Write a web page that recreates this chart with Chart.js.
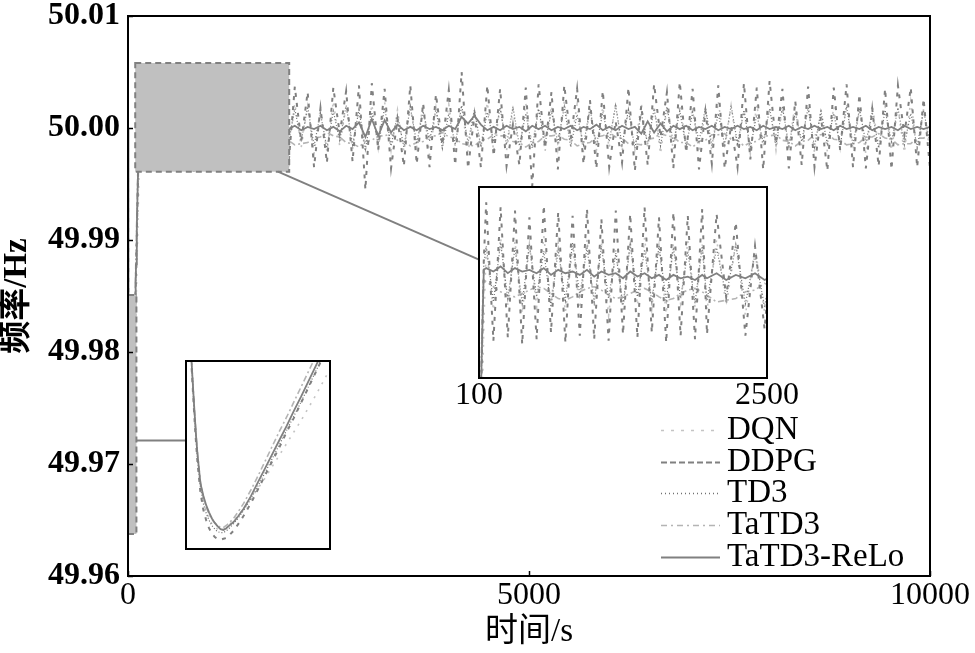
<!DOCTYPE html>
<html><head><meta charset="utf-8">
<script src="https://cdn.jsdelivr.net/npm/chart.js@4.4.1/dist/chart.umd.min.js"></script>
<style>
html,body{margin:0;padding:0;background:#fff;}
#wrap{position:relative;width:975px;height:653px;overflow:hidden;background:#fff;}
canvas{position:absolute;display:block;}
</style></head><body>
<div id="wrap">
<canvas id="main" width="975" height="653" style="left:0;top:0;"></canvas>
<canvas id="inset1" width="390" height="235" style="left:420px;top:180px;"></canvas>
<canvas id="inset2" width="148" height="192" style="left:184px;top:359px;"></canvas>
</div>
<script>
// ---------------- data (time in s, frequency in Hz) ----------------
const TIME = [
0,1,2,3,4,5,6,7,8,10,12,14,16,18,20,22,24,26,28,30,33,36,40,45,50,55,60,65,70,75,80,85,90,95,100,110,120,130,140,
160,220,280,340,400,460,520,580,640,700,760,820,880,940,1000,1060,1120,1180,1240,1300,1360,1420,1480,1540,1600,1660,1720,1780,1840,1900,1960,
2000,2080,2160,2240,2320,2400,2480,2560,2640,2720,
2800,2880,2960,3040,3120,3200,3280,3360,3440,3520,
3600,3680,3760,3840,3920,4000,4080,4160,4240,4320,
4400,4480,4560,4640,4720,4800,4880,4960,5040,5120,
5200,5280,5360,5440,5520,5600,5680,5760,5840,5920,
6000,6080,6160,6240,6320,6400,6480,6560,6640,6720,
6800,6880,6960,7040,7120,7200,7280,7360,7440,7520,
7600,7680,7760,7840,7920,8000,8080,8160,8240,8320,
8400,8480,8560,8640,8720,8800,8880,8960,9040,9120,
9200,9280,9360,9440,9520,9600,9680,9760,9840,9920,
10000];

const DQN = [
50.0000,49.9961,49.9919,49.9879,49.9844,49.9815,49.9788,49.9764,49.9743,49.9710,49.9691,49.9680,49.9672,49.9666,49.9662,49.9660,49.9659,49.9660,49.9662,49.9665,49.9669,49.9675,49.9683,49.9694,49.9706,49.9718,49.9731,49.9744,49.9757,49.9770,49.9783,49.9797,49.9811,49.9826,49.9841,49.9872,49.9904,49.9937,49.9970,
50.0018,49.9980,50.0023,49.9983,50.0021,49.9978,50.0019,49.9982,50.0024,49.9984,50.0020,49.9979,50.0017,49.9981,50.0022,49.9982,50.0020,49.9977,50.0016,49.9980,50.0021,49.9983,50.0023,49.9981,50.0018,49.9978,50.0020,49.9984,50.0021,49.9982,50.0019,
49.9980,50.0022,49.9983,50.0019,49.9977,50.0018,49.9979,50.0024,49.9984,50.0020,
49.9981,50.0017,49.9978,50.0021,49.9982,50.0023,49.9980,50.0016,49.9979,50.0019,
49.9983,50.0022,49.9976,50.0018,49.9981,50.0021,49.9984,50.0020,49.9978,50.0017,
49.9982,50.0023,49.9979,50.0019,49.9980,50.0016,49.9977,50.0022,49.9983,50.0018,
49.9979,50.0020,49.9981,50.0024,49.9984,50.0021,49.9978,50.0017,49.9980,50.0019,
49.9982,50.0023,49.9979,50.0016,49.9981,50.0022,49.9983,50.0020,49.9977,50.0018,
49.9980,50.0021,49.9984,50.0019,49.9978,50.0017,49.9979,50.0024,49.9982,50.0020,
49.9981,50.0016,49.9977,50.0021,49.9983,50.0022,49.9980,50.0018,49.9981,50.0023,
49.9984,50.0020,49.9978,50.0017,49.9979,50.0019,49.9982,50.0022,49.9980,50.0016,
49.9977,50.0021,49.9983,50.0019,49.9980,50.0018,49.9978,50.0024,49.9981,50.0017,
49.9979];

const DDPG = [
50.0000,49.9960,49.9918,49.9876,49.9840,49.9810,49.9782,49.9757,49.9735,49.9702,49.9682,49.9670,49.9661,49.9655,49.9651,49.9649,49.9648,49.9649,49.9650,49.9653,49.9658,49.9665,49.9675,49.9689,49.9705,49.9721,49.9737,49.9753,49.9770,49.9786,49.9803,49.9820,49.9837,49.9854,49.9871,49.9905,49.9938,49.9972,50.0010,
50.0044,49.9962,50.0041,49.9964,50.0039,49.9960,50.0035,49.9963,50.0042,49.9967,50.0038,49.9961,50.0036,49.9965,50.0040,49.9963,50.0034,49.9962,50.0039,49.9966,50.0037,49.9964,50.0041,49.9967,50.0035,49.9961,50.0038,49.9965,50.0036,49.9963,50.0040,
49.9966,50.0037,49.9988,50.0032,49.9965,50.0018,49.9969,50.0036,49.9995,50.0033,
49.9970,50.0038,49.9945,50.0040,49.9980,50.0035,49.9964,50.0008,49.9966,50.0038,
49.9968,50.0022,49.9965,50.0030,49.9985,50.0034,49.9967,50.0050,49.9964,50.0012,
49.9965,50.0038,49.9975,50.0035,49.9966,50.0003,49.9967,50.0036,49.9948,50.0039,
49.9982,50.0032,49.9963,50.0038,49.9990,50.0035,49.9968,50.0025,49.9964,50.0033,
49.9965,50.0006,49.9969,50.0036,49.9962,50.0020,49.9967,50.0039,49.9992,50.0032,
49.9964,50.0041,49.9978,50.0035,49.9963,50.0015,49.9968,50.0038,49.9964,50.0002,
49.9965,50.0040,49.9972,50.0036,49.9963,50.0042,49.9986,50.0035,49.9964,50.0024,
49.9967,50.0037,49.9965,50.0010,49.9962,50.0036,49.9980,50.0039,49.9965,50.0030,
49.9964,50.0017,49.9966,50.0035,49.9963,50.0038,49.9994,50.0036,49.9965,50.0026,
49.9964];

const TD3 = [
50.0000,49.9961,49.9920,49.9878,49.9843,49.9814,49.9787,49.9762,49.9740,49.9708,49.9689,49.9678,49.9670,49.9664,49.9660,49.9657,49.9656,49.9656,49.9658,49.9661,49.9666,49.9672,49.9681,49.9694,49.9709,49.9724,49.9740,49.9756,49.9772,49.9788,49.9804,49.9821,49.9838,49.9855,49.9872,49.9906,49.9940,49.9973,50.0008,
50.0018,49.9985,50.0020,49.9987,50.0017,49.9984,50.0019,49.9988,50.0015,49.9982,50.0016,49.9986,50.0020,49.9989,50.0017,49.9985,50.0018,49.9987,50.0014,49.9983,50.0019,49.9988,50.0016,49.9985,50.0018,49.9986,50.0017,49.9987,50.0015,49.9984,50.0018,
49.9986,50.0017,49.9988,50.0019,49.9984,50.0013,49.9982,50.0015,49.9989,50.0020,
49.9985,50.0016,49.9981,50.0014,49.9987,50.0018,49.9984,50.0012,49.9983,50.0019,
49.9986,50.0015,49.9988,50.0017,49.9982,50.0013,49.9985,50.0020,49.9987,50.0016,
49.9983,50.0014,49.9988,50.0018,49.9985,50.0019,49.9984,50.0013,49.9982,50.0017,
49.9986,50.0015,49.9987,50.0019,49.9983,50.0012,49.9985,50.0018,49.9984,50.0014,
49.9988,50.0020,49.9985,50.0016,49.9982,50.0013,49.9986,50.0017,49.9984,50.0019,
49.9987,50.0015,49.9983,50.0014,49.9988,50.0018,49.9984,50.0013,49.9985,50.0020,
49.9986,50.0016,49.9982,50.0012,49.9987,50.0017,49.9985,50.0019,49.9984,50.0014,
49.9988,50.0018,49.9983,50.0015,49.9986,50.0013,49.9984,50.0019,49.9985,50.0017,
49.9987,50.0014,49.9982,50.0016,49.9988,50.0018,49.9985,50.0013,49.9983,50.0016,
49.9986];

const TATD3 = [
50.0000,49.9963,49.9922,49.9882,49.9847,49.9818,49.9791,49.9767,49.9746,49.9714,49.9696,49.9685,49.9677,49.9671,49.9667,49.9664,49.9662,49.9662,49.9664,49.9667,49.9672,49.9679,49.9689,49.9704,49.9720,49.9737,49.9754,49.9771,49.9787,49.9804,49.9821,49.9838,49.9855,49.9872,49.9889,49.9922,49.9955,49.9984,49.9998,
49.9997,49.9994,49.9991,49.9989,49.9988,49.9990,49.9992,49.9994,49.9993,49.9990,49.9987,49.9986,49.9988,49.9991,49.9993,49.9994,49.9992,49.9989,49.9987,49.9988,49.9990,49.9992,49.9993,49.9991,49.9988,49.9986,49.9987,49.9990,49.9992,49.9993,49.9991,
49.9989,49.9985,49.9986,49.9987,49.9991,49.9992,49.9996,49.9993,49.9992,49.9987,
49.9986,49.9983,49.9988,49.9989,49.9993,49.9993,49.9995,49.9989,49.9988,49.9984,
49.9987,49.9988,49.9993,49.9993,49.9996,49.9992,49.9991,49.9986,49.9985,49.9984,
49.9989,49.9990,49.9994,49.9993,49.9993,49.9988,49.9987,49.9983,49.9987,49.9988,
49.9993,49.9993,49.9994,49.9990,49.9989,49.9984,49.9986,49.9987,49.9992,49.9993,
49.9996,49.9992,49.9991,49.9986,49.9986,49.9985,49.9990,49.9991,49.9995,49.9993,
49.9992,49.9987,49.9987,49.9983,49.9988,49.9989,49.9994,49.9994,49.9995,49.9990,
49.9989,49.9984,49.9987,49.9988,49.9993,49.9993,49.9994,49.9989,49.9988,49.9984,
49.9988,49.9989,49.9994,49.9994,49.9995,49.9990,49.9989,49.9985,49.9986,49.9987,
49.9992,49.9992,49.9995,49.9991,49.9990,49.9985,49.9986,49.9986,49.9991,49.9991,
49.9994];

const TATD3_RELO = [
50.0000,49.9962,49.9921,49.9880,49.9845,49.9817,49.9790,49.9765,49.9744,49.9712,49.9698,49.9687,49.9679,49.9672,49.9667,49.9663,49.9660,49.9659,49.9661,49.9664,49.9668,49.9674,49.9683,49.9697,49.9713,49.9729,49.9745,49.9761,49.9777,49.9794,49.9810,49.9827,49.9844,49.9861,49.9878,49.9911,49.9944,49.9975,50.0004,
50.0005,50.0003,50.0006,50.0002,50.0005,50.0003,50.0004,50.0002,50.0005,50.0001,50.0004,50.0002,50.0003,50.0001,50.0004,50.0000,50.0003,50.0001,50.0002,49.9999,50.0003,50.0000,50.0002,49.9999,50.0001,49.9998,50.0001,49.9999,50.0000,49.9998,50.0001,
49.9999,50.0002,49.9998,50.0001,49.9999,50.0002,49.9998,50.0001,49.9997,50.0002,
49.9999,50.0005,49.9992,50.0008,49.9993,50.0007,49.9996,50.0003,49.9998,50.0001,
49.9998,50.0002,49.9999,50.0001,49.9998,50.0002,49.9999,50.0010,50.0004,50.0011,
50.0003,49.9998,50.0001,49.9998,50.0002,49.9999,50.0001,49.9997,50.0002,49.9999,
50.0002,49.9998,50.0001,49.9999,50.0002,49.9998,50.0001,49.9999,50.0003,49.9998,
50.0001,49.9998,50.0002,49.9999,50.0001,49.9995,50.0006,49.9996,50.0004,49.9997,
50.0002,49.9999,50.0002,49.9998,50.0001,49.9999,50.0002,49.9998,50.0001,49.9999,
50.0002,49.9999,50.0001,49.9998,50.0002,49.9999,50.0001,49.9999,50.0002,49.9998,
50.0001,49.9999,50.0002,49.9999,50.0001,49.9998,50.0002,49.9999,50.0001,49.9999,
50.0002,49.9998,50.0001,49.9999,50.0001,49.9998,50.0002,49.9999,50.0001,49.9999,
50.0001];

const X_TICKS = [0, 5000, 10000];
const Y_TICKS = [49.96, 49.97, 49.98, 49.99, 50.00, 50.01];
const INSET1_TICKS = [100, 2500];
const INSET1_RANGE = {tMin:100, tMax:2500, fMin:49.9940, fMax:50.0053};
const INSET2_RANGE = {tMin:0, tMax:100, fMin:49.96375, fMax:49.985};
// zoom-indicator rectangles in data coordinates
const ZOOM_BOXES = [
  {t0:90, t1:2010, f0:49.9961, f1:50.0058},
  {t0:0,  t1:105,  f0:49.96375, f1:49.9851}
];

// ---------------- styles ----------------
const SERIF = "'Liberation Serif','Times New Roman','Noto Sans CJK SC',serif";
const SERIES = [
  {label:'DQN',        data:DQN,        color:'#c4c4c4', width:1.6, dash:[2,6],     legendDash:[3,7],     order:5},
  {label:'DDPG',       data:DDPG,       color:'#808080', width:2,   dash:[4,6],     legendDash:[6,3],     order:2},
  {label:'TD3',        data:TD3,        color:'#707070', width:1.2, dash:[1,2],     legendDash:[1,3],     order:3},
  {label:'TaTD3',      data:TATD3,      color:'#b4b4b4', width:1.6, dash:[6,3,2,3], legendDash:[6,4,2,4], order:4},
  {label:'TaTD3-ReLo', data:TATD3_RELO, color:'#808080', width:1.8, dash:[],        legendDash:[],        order:1}
];

function makeDatasets(){
  return SERIES.map(s => ({
    label: s.label,
    data: TIME.map((t,i) => ({x:t, y:s.data[i]})),
    borderColor: s.color, borderWidth: s.width, borderDash: s.dash,
    pointRadius: 0, pointHoverRadius: 0, fill: false, tension: 0, order: s.order
  }));
}

const insetFrame = {
  id: 'insetFrame',
  beforeDraw(chart){
    const {ctx, chartArea:a} = chart;
    ctx.save(); ctx.fillStyle = '#fff';
    ctx.fillRect(a.left, a.top, a.right-a.left, a.bottom-a.top);
    ctx.restore();
  },
  afterDraw(chart){
    const {ctx, chartArea:a} = chart;
    ctx.save(); ctx.strokeStyle = '#000'; ctx.lineWidth = 2; ctx.setLineDash([]);
    ctx.strokeRect(a.left, a.top, a.right-a.left, a.bottom-a.top);
    ctx.restore();
  }
};

const baseOpts = () => ({
  responsive:false, animation:false, devicePixelRatio:1, events:[],
  plugins:{legend:{display:false}, tooltip:{enabled:false}}
});

// ---------------- inset 1 (100 - 2500 s) ----------------
const inset1El = document.getElementById('inset1');
const inset1 = new Chart(inset1El, {
  type:'line',
  data:{datasets: makeDatasets()},
  options: Object.assign(baseOpts(), {
    layout:{padding:{left:59, right:43, top:7, bottom:0}},
    scales:{
      x:{type:'linear', min:INSET1_RANGE.tMin, max:INSET1_RANGE.tMax,
         afterBuildTicks: s => { s.ticks = INSET1_TICKS.map(v => ({value:v})); },
         ticks:{font:{family:SERIF, size:32, lineHeight:1.1}, color:'#000', padding:0, maxRotation:0, autoSkip:false, callback: v => String(v)},
         grid:{display:false, drawTicks:false}, border:{display:false},
         afterFit: s => { s.height = 37; s.paddingLeft = 0; s.paddingRight = 0; }},
      y:{type:'linear', display:false, min:INSET1_RANGE.fMin, max:INSET1_RANGE.fMax}
    }
  }),
  plugins:[insetFrame]
});

// ---------------- inset 2 (0 - 100 s) ----------------
const inset2El = document.getElementById('inset2');
const inset2 = new Chart(inset2El, {
  type:'line',
  data:{datasets: makeDatasets()},
  options: Object.assign(baseOpts(), {
    layout:{padding:2},
    scales:{
      x:{type:'linear', display:false, min:INSET2_RANGE.tMin, max:INSET2_RANGE.tMax},
      y:{type:'linear', display:false, min:INSET2_RANGE.fMin, max:INSET2_RANGE.fMax}
    }
  }),
  plugins:[insetFrame]
});

// ---------------- main chart ----------------
const mainDeco = {
  id:'mainDeco',
  afterDatasetsDraw(chart){
    const {ctx, scales:{x, y}} = chart;
    ctx.save();
    ZOOM_BOXES.forEach(b => {
      const x0 = x.getPixelForValue(b.t0), x1 = x.getPixelForValue(b.t1);
      const y0 = y.getPixelForValue(b.f1), y1 = y.getPixelForValue(b.f0);
      ctx.fillStyle = '#c0c0c0';
      ctx.fillRect(x0, y0, x1-x0, y1-y0);
      ctx.setLineDash([6,4]); ctx.strokeStyle = '#808080'; ctx.lineWidth = 2;
      ctx.strokeRect(x0, y0, x1-x0, y1-y0);
    });
    ctx.restore();
  },
  afterDraw(chart){
    const {ctx, chartArea:a, scales:{x, y}} = chart;
    ctx.save();
    // connectors to the insets
    ctx.setLineDash([]); ctx.strokeStyle = '#808080'; ctx.lineWidth = 2;
    const i1x = inset1El.offsetLeft + inset1.chartArea.left;
    const i1y = inset1El.offsetTop + inset1.scales.y.getPixelForValue(50.0010);
    ctx.beginPath();
    ctx.moveTo(x.getPixelForValue(1870), y.getPixelForValue(ZOOM_BOXES[0].f0));
    ctx.lineTo(i1x, i1y); ctx.stroke();
    const i2x = inset2El.offsetLeft + inset2.chartArea.left;
    const cy = y.getPixelForValue(49.9721);
    ctx.beginPath();
    ctx.moveTo(x.getPixelForValue(ZOOM_BOXES[1].t1), cy);
    ctx.lineTo(i2x, cy); ctx.stroke();
    // frame
    ctx.strokeStyle = '#000'; ctx.lineWidth = 2;
    ctx.strokeRect(a.left, a.top, a.right-a.left, a.bottom-a.top);
    // inward tick marks
    ctx.lineWidth = 1.5;
    y.ticks.forEach(t => {
      const py = Math.round(y.getPixelForValue(t.value)) + 0.5;
      ctx.beginPath(); ctx.moveTo(a.left, py); ctx.lineTo(a.left+5, py); ctx.stroke();
    });
    x.ticks.forEach(t => {
      const px = Math.round(x.getPixelForValue(t.value)) + 0.5;
      ctx.beginPath(); ctx.moveTo(px, a.bottom); ctx.lineTo(px, a.bottom-5); ctx.stroke();
    });
    // legend
    const lx0 = a.right - 269, lx1 = a.right - 210, tx = a.right - 203;
    const ly0 = a.bottom - 146, dy = 31.7;
    ctx.font = '33px ' + SERIF; ctx.textBaseline = 'middle'; ctx.textAlign = 'left';
    SERIES.forEach((s, i) => {
      const yy = Math.round(ly0 + i*dy) + 0.5;
      ctx.setLineDash(s.legendDash); ctx.strokeStyle = s.color; ctx.lineWidth = Math.max(s.width, 1.5);
      ctx.beginPath(); ctx.moveTo(lx0, yy); ctx.lineTo(lx1, yy); ctx.stroke();
      ctx.setLineDash([]); ctx.fillStyle = '#000';
      ctx.fillText(s.label, tx, yy);
    });
    ctx.restore();
  }
};

const mainChart = new Chart(document.getElementById('main'), {
  type:'line',
  data:{datasets: makeDatasets()},
  options: Object.assign(baseOpts(), {
    layout:{padding:{left:0, top:16, right:45, bottom:0}},
    scales:{
      x:{type:'linear', min:0, max:10000,
         afterBuildTicks: s => { s.ticks = X_TICKS.map(v => ({value:v})); },
         ticks:{font:{family:SERIF, size:32}, color:'#000', padding:0, maxRotation:0, autoSkip:false, callback: v => String(v)},
         grid:{display:false, drawTicks:false}, border:{display:false},
         title:{display:true, text:'时间/s', color:'#000', font:{family:SERIF, size:33, lineHeight:1}, padding:{top:0, bottom:4}},
         afterFit: s => { s.height = 77; s.paddingLeft = 0; s.paddingRight = 0; }},
      y:{type:'linear', min:49.96, max:50.01,
         afterBuildTicks: s => { s.ticks = Y_TICKS.map(v => ({value:v})); },
         ticks:{font:{family:SERIF, size:32, weight:'bold'}, color:'#000', padding:8, callback: v => Number(v).toFixed(2)},
         grid:{display:false, drawTicks:false}, border:{display:false},
         title:{display:true, text:'频率/Hz', color:'#000', font:{family:SERIF, size:33, weight:'bold', lineHeight:1}, padding:{top:1, bottom:0}},
         afterFit: s => { s.width = 128; s.paddingTop = 0; s.paddingBottom = 0; }}
    }
  }),
  plugins:[mainDeco]
});
</script>
</body></html>
